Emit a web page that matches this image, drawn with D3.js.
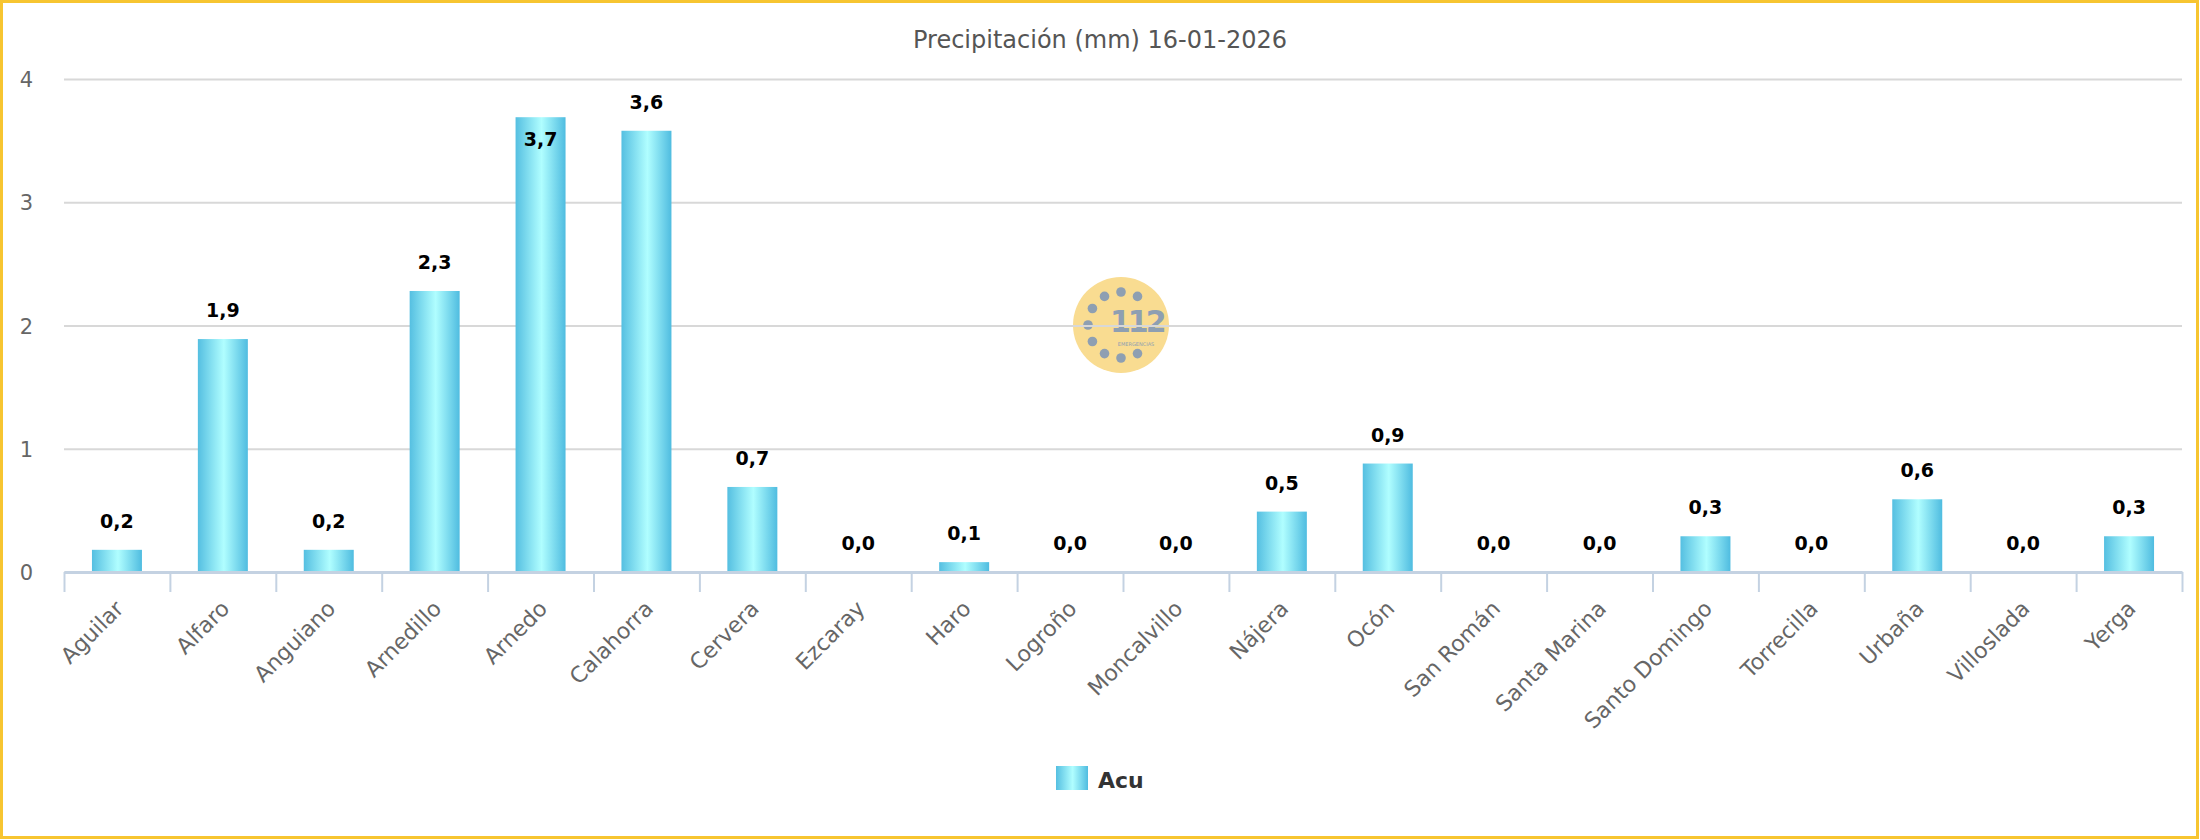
<!DOCTYPE html>
<html>
<head>
<meta charset="utf-8">
<script src="https://cdn.jsdelivr.net/npm/d3@7"></script>
<style>
  body { margin: 0; background: #fff; }
  svg text { font-family: "DejaVu Sans", Verdana, sans-serif; }
  .grid line { stroke: #d8d8d8; stroke-width: 2px; }
  .grid path { display: none; }
  .ylab text { fill: #666; font-size: 21px; }
  .xlab text { fill: #666; font-size: 22px; }
  .value { font-size: 19px; font-weight: bold; fill: #000; }
</style>
</head>
<body>
<div class="chart"></div>
<script>
// data
var categories = ["Aguilar", "Alfaro", "Anguiano", "Arnedillo", "Arnedo", "Calahorra", "Cervera",
  "Ezcaray", "Haro", "Logroño", "Moncalvillo", "Nájera", "Ocón", "San Román", "Santa Marina",
  "Santo Domingo", "Torrecilla", "Urbaña", "Villoslada", "Yerga"];
var values = [0.18, 1.89, 0.18, 2.28, 3.69, 3.58, 0.69, 0, 0.08, 0, 0, 0.49, 0.88, 0, 0, 0.29, 0, 0.59, 0, 0.29];
var yTicks = [0, 1, 2, 3, 4];
var seriesName = "Acu";
var title = "Precipitación (mm) 16-01-2026";

// dimensions
var W = 2200, H = 840;
var plot = {left: 64, right: 2182, top: 79, bottom: 572};

var fmt = function(v) { return d3.format(".1f")(v).replace(".", ","); };

// scales
var x = d3.scaleBand().domain(categories).range([plot.left, plot.right]).padding(0);
var xEdge = d3.scaleLinear().domain([0, categories.length]).range([plot.left, plot.right]);
var y = d3.scaleLinear().domain([0, 4]).range([plot.bottom, plot.top]);
var barW = x.bandwidth() * 0.472;

var svg = d3.select(".chart").append("svg")
  .attr("width", W)
  .attr("height", H);

var defs = svg.append("defs");
var grad = defs.append("linearGradient").attr("id", "barGrad")
  .attr("x1", "0%").attr("x2", "100%").attr("y1", "0%").attr("y2", "0%");
grad.append("stop").attr("offset", "0%").attr("stop-color", "#55bfe1");
grad.append("stop").attr("offset", "52%").attr("stop-color", "#b0feff");
grad.append("stop").attr("offset", "100%").attr("stop-color", "#4fbce0");

svg.append("rect").attr("width", W).attr("height", H).attr("fill", "#fff");

// watermark logo (behind the grid)
var logo = svg.append("g").attr("transform", "translate(1121,325)");
logo.append("circle").attr("r", 48).attr("fill", "#f9dc91");
[90, 120, 60, 150, 180, 210, 240, 270, 300].forEach(function(a) {
  var r = a * Math.PI / 180;
  logo.append("circle")
    .attr("cx", 33 * Math.cos(r))
    .attr("cy", -33 * Math.sin(r))
    .attr("r", 4.8)
    .attr("fill", "#8e9fb2");
});
logo.append("text").attr("x", -11).attr("y", 7)
  .attr("font-family", "'DejaVu Sans Condensed', 'DejaVu Sans', sans-serif")
  .attr("font-size", 30).attr("font-weight", "bold").attr("fill", "#8e9fb2")
  .attr("letter-spacing", -3).text("112");
logo.append("text").attr("x", 15).attr("y", 21)
  .attr("font-size", 5).attr("fill", "#8e9fb2").attr("text-anchor", "middle")
  .text("EMERGENCIAS");

// grid lines
svg.append("g")
  .attr("class", "grid")
  .attr("transform", "translate(" + plot.left + ",0)")
  .call(d3.axisLeft(y).tickValues(yTicks).tickSize(-(plot.right - plot.left)).tickFormat(""));

// y labels
var yl = svg.append("g")
  .attr("class", "ylab")
  .attr("transform", "translate(33,0)")
  .call(d3.axisLeft(y).tickValues(yTicks).tickSize(0).tickPadding(0).tickFormat(d3.format("d")));
yl.select(".domain").remove();
yl.selectAll("text").attr("dy", "0.36em");

// bars
svg.selectAll(".bar")
  .data(values)
  .enter()
  .append("rect")
  .attr("class", "bar")
  .attr("x", function(d, i) { return x(categories[i]) + (x.bandwidth() - barW) / 2; })
  .attr("width", barW)
  .attr("y", function(d) { return y(d); })
  .attr("height", function(d) { return y(0) - y(d); })
  .attr("fill", "url(#barGrad)");

// x axis line + ticks between categories
var xa = svg.append("g")
  .attr("transform", "translate(0," + plot.bottom + ")")
  .call(d3.axisBottom(xEdge).tickValues(d3.range(categories.length + 1)).tickSize(20).tickSizeOuter(0).tickFormat(""));
xa.selectAll("line").attr("stroke", "#c4d2e2").attr("stroke-width", 2);
xa.select(".domain").attr("stroke", "#c4d2e2").attr("stroke-width", 3);

// x labels
var xl = svg.append("g")
  .attr("class", "xlab")
  .attr("transform", "translate(0," + plot.bottom + ")")
  .call(d3.axisBottom(x).tickSize(0));
xl.select(".domain").remove();
xl.selectAll("text")
  .attr("text-anchor", "end")
  .attr("y", 0)
  .attr("dy", 0)
  .attr("transform", "translate(8,38) rotate(-45)");

// value labels
svg.selectAll(".value")
  .data(values)
  .enter()
  .append("text")
  .attr("class", "value")
  .attr("text-anchor", "middle")
  .attr("x", function(d, i) { return x(categories[i]) + x.bandwidth() / 2; })
  .attr("y", function(d) {
    var top = y(d);
    return (top - 40 < plot.top) ? top + 29 : top - 22;
  })
  .text(function(d) { return fmt(d); });

// title
svg.append("text")
  .attr("x", W / 2)
  .attr("y", 48)
  .attr("text-anchor", "middle")
  .attr("font-size", 24)
  .attr("fill", "#555")
  .text(title);

// legend
svg.append("rect")
  .attr("x", 1056).attr("y", 766)
  .attr("width", 32).attr("height", 24)
  .attr("fill", "url(#barGrad)");
svg.append("text")
  .attr("x", 1098).attr("y", 788)
  .attr("font-size", 22).attr("font-weight", "bold").attr("fill", "#333")
  .text(seriesName);

// frame
svg.append("rect")
  .attr("x", 1.5).attr("y", 1.5)
  .attr("width", W - 4).attr("height", H - 4)
  .attr("fill", "none")
  .attr("stroke", "#f7c531")
  .attr("stroke-width", 3);
</script>
</body>
</html>
